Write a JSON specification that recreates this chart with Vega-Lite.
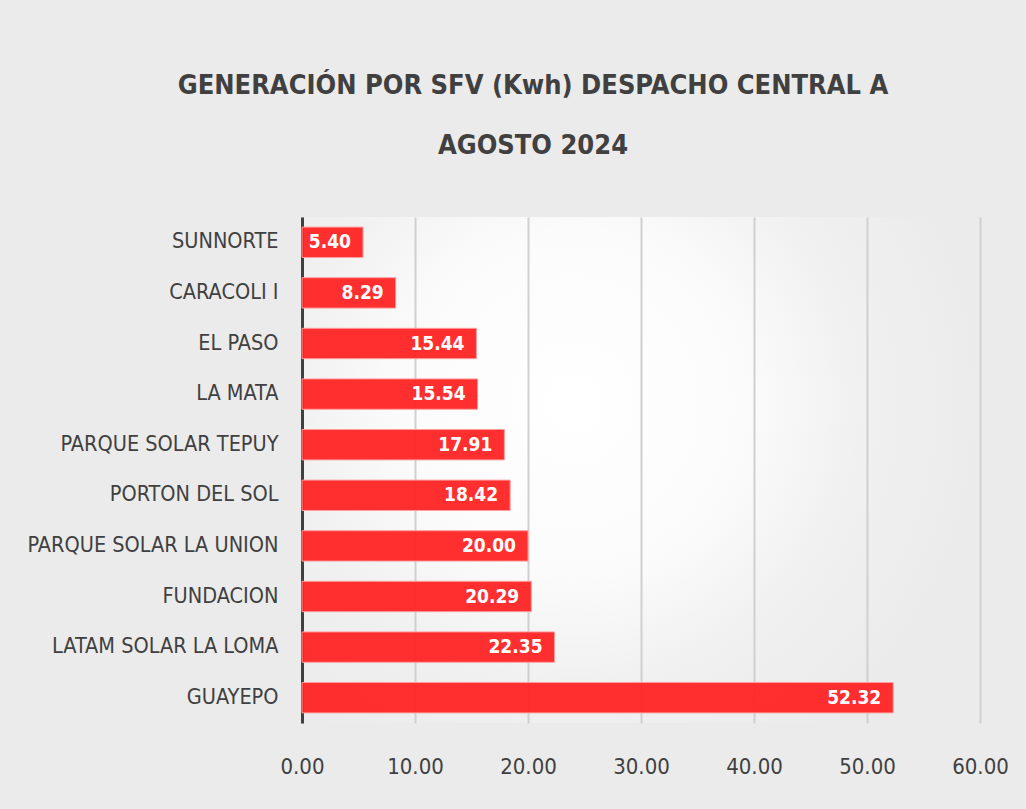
{
  "$schema": "https://vega.github.io/schema/vega-lite/v6.json",
  "width": 678,
  "height": 506,
  "autosize": {"type": "none"},
  "padding": {"left": 302, "top": 217, "right": 46, "bottom": 86},
  "background": "#ebebeb",
  "config": {
    "view": {"stroke": null, "fill": {"gradient": "radial", "x1": 0.4, "y1": 0.4, "r1": 0, "x2": 0.4, "y2": 0.4, "r2": 0.85, "stops": [{"offset": 0, "color": "#ffffff"}, {"offset": 0.3, "color": "#fbfbfb"}, {"offset": 0.5, "color": "#f0f0f0"}, {"offset": 0.72, "color": "#ebebeb"}, {"offset": 1, "color": "#ebebeb"}]}},
    "font": "'DejaVu Sans Condensed', sans-serif"
  },
  "title": {
    "text": ["GENERACIÓN POR SFV (Kwh) DESPACHO CENTRAL  A", "AGOSTO 2024"],
    "fontSize": 27,
    "fontWeight": "bold",
    "color": "#404040",
    "anchor": "middle",
    "dx": -108,
    "offset": 57,
    "lineHeight": 60
  },
  "data": {
    "values": [
      {"planta": "SUNNORTE", "kwh": 5.40},
      {"planta": "CARACOLI I", "kwh": 8.29},
      {"planta": "EL PASO", "kwh": 15.44},
      {"planta": "LA MATA", "kwh": 15.54},
      {"planta": "PARQUE SOLAR TEPUY", "kwh": 17.91},
      {"planta": "PORTON DEL SOL", "kwh": 18.42},
      {"planta": "PARQUE SOLAR LA UNION", "kwh": 20.00},
      {"planta": "FUNDACION", "kwh": 20.29},
      {"planta": "LATAM SOLAR LA LOMA", "kwh": 22.35},
      {"planta": "GUAYEPO", "kwh": 52.32}
    ]
  },
  "encoding": {
    "y": {
      "field": "planta",
      "type": "nominal",
      "sort": {"field": "kwh", "order": "ascending"},
      "scale": {"paddingInner": 0.4, "paddingOuter": 0.2},
      "axis": {
        "title": null,
        "ticks": false,
        "domain": true,
        "domainColor": "#404040",
        "domainWidth": 3,
        "labelFontSize": 21.5,
        "labelColor": "#404040",
        "labelPadding": 24,
        "labelLimit": 400
      }
    },
    "x": {
      "field": "kwh",
      "type": "quantitative",
      "scale": {"domain": [0, 60], "nice": false},
      "axis": {
        "title": null,
        "values": [0, 10, 20, 30, 40, 50, 60],
        "format": ".2f",
        "ticks": false,
        "domain": false,
        "grid": true,
        "gridColor": "#d0d0d0",
        "gridWidth": 2,
        "labelFontSize": 22,
        "labelColor": "#404040",
        "labelPadding": 33,
        "labelFlush": false
      }
    }
  },
  "layer": [
    {
      "mark": {"type": "bar", "color": "#ff2424", "fillOpacity": 0.95, "stroke": "#ff9c9c", "strokeWidth": 1}
    },
    {
      "mark": {"type": "text", "align": "right", "baseline": "middle", "dx": -12, "color": "#ffffff", "fontWeight": "bold", "fontSize": 19},
      "encoding": {"text": {"field": "kwh", "type": "quantitative", "format": ".2f"}}
    }
  ]
}
